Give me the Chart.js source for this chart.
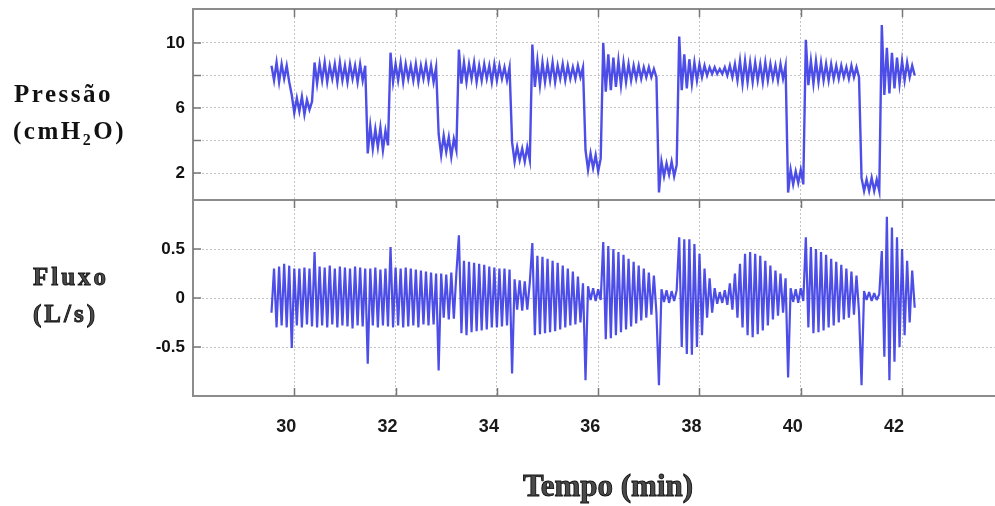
<!DOCTYPE html>
<html><head><meta charset="utf-8">
<script src="https://cdn.jsdelivr.net/npm/chart.js@4.4.0/dist/chart.umd.min.js"></script>
<style>html,body{margin:0;padding:0;background:#fff;overflow:hidden}#wrap{position:relative;width:995px;height:506px}canvas{display:block}</style>
</head><body><div id="wrap"><canvas id="c" width="995" height="506"></canvas></div>
<script>
// sampling of the traces (minutes)
const sampleStart = 29.55;
const sampleStep = 0.05;
const xTicks = [30, 32, 34, 36, 38, 40, 42];
const pressureGrid = [2, 4, 6, 8, 10];
const pressureTickLabels = [2, 6, 10];
const flowTicks = [-0.5, 0, 0.5];

// Pressão (cmH2O)
const pressure = [
  8.6, 7.7, 8.8, 7.6, 8.7, 7.8, 8.6, 7.6,
  6.8, 5.7, 6.6, 5.8, 6.7, 5.6, 6.5, 5.9, 6.4,
  8.8, 7.5, 8.7, 7.7, 8.8, 7.6, 8.6, 7.8, 8.7, 7.6, 8.8, 7.7, 8.6, 7.6, 8.7, 7.8, 8.6, 7.6, 8.7, 7.7, 8.6,
  3.2, 4.9, 3.5, 4.7, 3.6, 4.8, 3.4, 4.6, 3.7,
  9.4, 7.6, 8.7, 7.7, 8.8, 7.6, 8.7, 7.8, 8.6, 7.7, 8.7, 7.6, 8.6, 7.8, 8.7, 7.7, 8.6, 7.6, 8.5,
  4.4, 3.1, 4.3, 3.3, 4.2, 3.0, 4.1, 3.4,
  9.6, 7.5, 8.8, 7.6, 8.7, 7.8, 8.8, 7.6, 8.6, 7.7, 8.7, 7.8, 8.6, 7.6, 8.7, 7.7, 8.6, 7.8, 8.5, 7.7, 8.5,
  3.9, 2.7, 3.6, 2.8, 3.5, 2.7, 3.6, 2.8,
  9.9, 7.3, 8.9, 7.4, 8.8, 7.6, 8.7, 7.7, 8.8, 7.6, 8.6, 7.8, 8.7, 7.7, 8.6, 7.8, 8.5, 7.8, 8.6, 7.9, 8.5,
  3.4, 2.2, 3.2, 2.3, 3.1, 2.1, 2.9,
  10.0, 7.0, 9.3, 7.1, 9.1, 7.3, 8.9, 7.4, 8.8, 7.6, 8.7, 7.7, 8.6, 7.8, 8.6, 7.8, 8.5, 7.9, 8.5, 7.9, 8.4, 7.9,
  0.8, 2.7, 1.8, 2.6, 1.9, 2.7, 1.8, 2.5,
  10.4, 7.1, 9.3, 7.2, 9.0, 7.5, 8.8, 7.7, 8.7, 7.9,
  8.6, 8.0, 8.5, 8.1, 8.5, 8.1, 8.4, 8.1, 8.5, 8.0, 8.6, 7.9, 8.7,
  7.7, 8.9, 7.5, 8.9, 7.6, 8.8, 7.6, 8.8, 7.7, 8.7, 7.6, 8.8, 7.7, 8.7, 7.8, 8.6, 7.7, 8.7, 7.8, 8.6,
  0.8, 2.2, 1.3, 2.1, 1.4, 2.2, 1.3,
  10.2, 7.4, 8.9, 7.5, 8.9, 7.6, 8.8, 7.7, 8.7, 7.7, 8.7, 7.8, 8.6, 7.8, 8.6, 7.9, 8.5, 7.8, 8.6, 7.9, 8.5, 7.9,
  1.7, 0.9, 1.6, 0.9, 1.7, 0.9, 1.6, 0.9,
  11.1, 6.8, 9.7, 6.9, 9.4, 7.2, 9.1, 7.5, 8.9, 7.7, 8.8, 7.9, 8.6, 8.0
];

// Fluxo (L/s)
const flow = [
  -0.15, 0.3, -0.3, 0.32, -0.28, 0.35, -0.3, 0.33,
  -0.51, 0.3, -0.28, 0.3, -0.3, 0.31, -0.27, 0.3, -0.29,
  0.47, -0.3, 0.32, -0.28, 0.31, -0.3, 0.33, -0.27, 0.3, -0.3, 0.32, -0.28, 0.31, -0.29, 0.3, -0.31, 0.32, -0.28, 0.31, -0.29, 0.3,
  -0.67, 0.3, -0.28, 0.31, -0.3, 0.29, -0.28, 0.3, -0.29,
  0.52, -0.3, 0.31, -0.28, 0.3, -0.3, 0.31, -0.29, 0.3, -0.28, 0.29, -0.3, 0.28, -0.27, 0.27, -0.28, 0.26, -0.27, 0.25,
  -0.74, 0.25, -0.2, 0.24, -0.22, 0.26, -0.21, 0.25,
  0.64, -0.36, 0.38, -0.38, 0.37, -0.35, 0.36, -0.34, 0.35, -0.33, 0.34, -0.32, 0.32, -0.3, 0.31, -0.3, 0.3, -0.29, 0.3, -0.28, 0.29,
  -0.77, 0.19, -0.12, 0.18, -0.13, 0.17, -0.12, 0.16,
  0.56, -0.38, 0.43, -0.37, 0.42, -0.36, 0.4, -0.35, 0.38, -0.34, 0.36, -0.32, 0.33, -0.3, 0.3, -0.28, 0.27, -0.27, 0.22, -0.25, 0.15,
  -0.84, 0.12, -0.02, 0.1, -0.03, 0.09, -0.02,
  0.57, -0.42, 0.53, -0.41, 0.5, -0.38, 0.47, -0.35, 0.44, -0.32, 0.4, -0.29, 0.37, -0.26, 0.33, -0.23, 0.3, -0.2, 0.26, -0.17, 0.23, -0.15,
  -0.89, 0.09, -0.04, 0.08, -0.05, 0.07, -0.03, 0.08,
  0.62, -0.5, 0.6, -0.57, 0.6, -0.58, 0.55, -0.5, 0.45, -0.38,
  0.3, -0.2, 0.2, -0.15, 0.1, -0.06, 0.06, -0.05, 0.08, -0.07, 0.15, -0.12, 0.25,
  -0.2, 0.35, -0.3, 0.45, -0.38, 0.47, -0.4, 0.45, -0.37, 0.43, -0.33, 0.38, -0.28, 0.33, -0.22, 0.28, -0.18, 0.25, -0.15, 0.2,
  -0.81, 0.1, -0.04, 0.09, -0.05, 0.1, -0.03,
  0.62, -0.3, 0.52, -0.36, 0.5, -0.35, 0.47, -0.33, 0.44, -0.3, 0.4, -0.28, 0.37, -0.25, 0.34, -0.22, 0.3, -0.2, 0.27, -0.17, 0.23, -0.14,
  -0.89, 0.07, -0.02, 0.06, -0.03, 0.05, -0.02, 0.04,
  0.48, -0.6, 0.83, -0.84, 0.72, -0.65, 0.62, -0.5, 0.5, -0.38, 0.38, -0.25, 0.28, -0.1
];

const toPoints = arr => arr.map((v, i) => ({ x: +(sampleStart + i * sampleStep).toFixed(3), y: v }));
const lineColor = 'rgba(32,32,226,0.8)';
const gridColor = '#c4c4c4';
const frameColor = '#8c8c8c';

const noPad = s => { s.paddingTop = 0; s.paddingBottom = 0; };

const decor = {
  id: 'decor',
  afterDraw(chart) {
    const { ctx, chartArea: a, scales } = chart;
    const x = scales.x, yP = scales.yP, yF = scales.yF;
    const mid = yP.bottom;
    ctx.save();
    ctx.strokeStyle = frameColor; ctx.lineWidth = 2;
    ctx.beginPath();
    ctx.moveTo(a.left, a.top); ctx.lineTo(a.right, a.top);
    ctx.moveTo(a.left, mid); ctx.lineTo(a.right, mid);
    ctx.stroke();
    ctx.strokeStyle = '#777'; ctx.lineWidth = 1.5;
    ctx.beginPath();
    xTicks.forEach(v => {
      const px = Math.round(x.getPixelForValue(v)) + 0.5;
      ctx.moveTo(px, a.top); ctx.lineTo(px, a.top + 8);
      ctx.moveTo(px, mid); ctx.lineTo(px, mid + 8);
      ctx.moveTo(px, a.bottom); ctx.lineTo(px, a.bottom - 8);
    });
    pressureGrid.forEach(v => { const py = yP.getPixelForValue(v); ctx.moveTo(a.left, py); ctx.lineTo(a.left + 8, py); });
    flowTicks.forEach(v => { const py = yF.getPixelForValue(v); ctx.moveTo(a.left, py); ctx.lineTo(a.left + 8, py); });
    ctx.stroke();

    ctx.fillStyle = '#111';
    ctx.textBaseline = 'alphabetic';
    ctx.textAlign = 'left';
    try { ctx.letterSpacing = '2.5px'; } catch (e) {}
    ctx.font = 'bold 25px "Liberation Serif", "DejaVu Serif", serif';
    ctx.fillText('Pressão', 14, 102);
    let cx = 13;
    ctx.fillText('(cmH', cx, 139);
    cx += ctx.measureText('(cmH').width;
    ctx.font = 'bold 16px "Liberation Serif", serif';
    ctx.fillText('2', cx, 145);
    cx += ctx.measureText('2').width;
    ctx.font = 'bold 25px "Liberation Serif", "DejaVu Serif", serif';
    ctx.fillText('O)', cx, 139);

    ctx.fillStyle = '#4a4a4a';
    ctx.strokeStyle = '#111'; ctx.lineWidth = 0.9;
    try { ctx.letterSpacing = '3px'; } catch (e) {}
    ctx.font = 'bold 25px "Liberation Serif", "DejaVu Serif", serif';
    ctx.fillText('Fluxo', 33, 285); ctx.strokeText('Fluxo', 33, 285);
    ctx.fillText('(L/s)', 33, 322); ctx.strokeText('(L/s)', 33, 322);

    try { ctx.letterSpacing = '0px'; } catch (e) {}
    ctx.font = 'bold 31px "Liberation Serif", "DejaVu Serif", serif';
    ctx.textAlign = 'center'; ctx.textBaseline = 'middle';
    ctx.fillText('Tempo (min)', 608, 488); ctx.strokeText('Tempo (min)', 608, 488);
    ctx.restore();
  }
};

new Chart(document.getElementById('c'), {
  type: 'line',
  data: {
    datasets: [
      { label: 'Pressão', data: toPoints(pressure), yAxisID: 'yP', borderColor: lineColor, borderWidth: 2.4, pointRadius: 0, tension: 0, borderJoinStyle: 'miter' },
      { label: 'Fluxo', data: toPoints(flow), yAxisID: 'yF', borderColor: lineColor, borderWidth: 2.2, pointRadius: 0, tension: 0, borderJoinStyle: 'bevel' }
    ]
  },
  options: {
    responsive: false, animation: false,
    layout: { padding: { top: 9, left: 0, right: 0, bottom: 0 } },
    plugins: { legend: { display: false }, tooltip: { enabled: false } },
    scales: {
      x: {
        type: 'linear', min: 28, max: 43.835,
        afterBuildTicks: s => { s.ticks = xTicks.map(v => ({ value: v })); },
        afterFit: s => { s.height = 110; s.paddingLeft = 0; s.paddingRight = 0; },
        grid: { color: gridColor, drawTicks: false, lineWidth: 1 },
        border: { display: true, color: frameColor, width: 2, dash: [2, 2] },
        ticks: { padding: 20, labelOffset: -8, color: '#1a1a1a', font: { family: '"Liberation Sans", Arial, sans-serif', size: 18, weight: 'bold' } }
      },
      yF: {
        type: 'linear', position: 'left', stack: 'panels', stackWeight: 196,
        min: -1, max: 1,
        afterBuildTicks: s => { s.ticks = flowTicks.map(v => ({ value: v })); },
        afterFit: s => { s.width = 193; noPad(s); },
        grid: { color: gridColor, drawTicks: false },
        border: { display: true, color: frameColor, width: 2, dash: [2, 2] },
        ticks: { padding: 8, color: '#111', font: { family: '"Liberation Sans", Arial, sans-serif', size: 17, weight: 'bold' },
          callback: v => String(v) }
      },
      yP: {
        type: 'linear', position: 'left', stack: 'panels', stackWeight: 191,
        min: 0.34, max: 12.09,
        afterBuildTicks: s => { s.ticks = pressureGrid.map(v => ({ value: v })); },
        afterFit: s => { s.width = 193; noPad(s); },
        grid: { color: gridColor, drawTicks: false },
        border: { display: true, color: frameColor, width: 2, dash: [2, 2] },
        ticks: { padding: 8, color: '#111', font: { family: '"Liberation Sans", Arial, sans-serif', size: 17, weight: 'bold' },
          callback: v => pressureTickLabels.includes(v) ? String(v) : '' }
      }
    }
  },
  plugins: [decor]
});
</script>
</body></html>
